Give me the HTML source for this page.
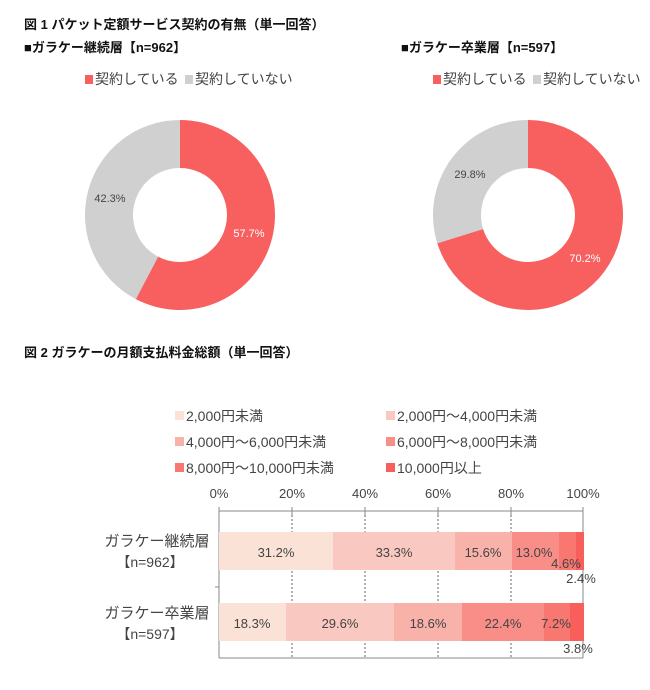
<!DOCTYPE html>
<html><head><meta charset="utf-8"><style>
body{margin:0;background:#fff;}
svg text{font-family:"Liberation Sans","Noto Sans CJK JP",sans-serif;}
</style></head><body>
<svg width="650" height="685" viewBox="0 0 650 685" xmlns="http://www.w3.org/2000/svg">
<text x="24" y="29" font-size="13" fill="#111" font-weight="bold">図 1  パケット定額サービス契約の有無（単一回答）</text>
<text x="24" y="52" font-size="13" fill="#111" font-weight="bold">■ガラケー継続層【n=962】</text>
<text x="401" y="52" font-size="13" fill="#111" font-weight="bold">■ガラケー卒業層【n=597】</text>
<rect x="85" y="75" width="8" height="9" fill="#f86060"/><text x="95" y="84" font-size="14" fill="#444">契約している</text>
<rect x="185" y="75" width="8" height="9" fill="#d0d0d0"/><text x="195" y="84" font-size="14" fill="#444">契約していない</text>
<rect x="433" y="75" width="8" height="9" fill="#f86060"/><text x="443" y="84" font-size="14" fill="#444">契約している</text>
<rect x="533" y="75" width="8" height="9" fill="#d0d0d0"/><text x="543" y="84" font-size="14" fill="#444">契約していない</text>
<path d="M180 120 A95 95 0 1 1 135.8 299.1 L158.1 256.6 A47 47 0 1 0 180 168 Z" fill="#f86060"/>
<path d="M135.8 299.1 A95 95 0 0 1 180 120 L180 168 A47 47 0 0 0 158.1 256.6 Z" fill="#d0d0d0"/>
<text x="249" y="237" font-size="11" fill="#fff" text-anchor="middle">57.7%</text>
<text x="110" y="202" font-size="11" fill="#444" text-anchor="middle">42.3%</text>
<path d="M528 120 A95 95 0 1 1 437.3 243.2 L483.1 229 A47 47 0 1 0 528 168 Z" fill="#f86060"/>
<path d="M437.3 243.2 A95 95 0 0 1 528 120 L528 168 A47 47 0 0 0 483.1 229 Z" fill="#d0d0d0"/>
<text x="585" y="262" font-size="11" fill="#fff" text-anchor="middle">70.2%</text>
<text x="470" y="178" font-size="11" fill="#444" text-anchor="middle">29.8%</text>
<text x="24" y="357" font-size="13" fill="#111" font-weight="bold">図 2  ガラケーの月額支払料金総額（単一回答）</text>
<g font-size="14" fill="#444">
<rect x="175" y="411" width="9" height="9" fill="#fae3d6"/><text x="186" y="421">2,000円未満</text>
<rect x="386" y="411" width="9" height="9" fill="#f9c9c1"/><text x="397" y="421">2,000円～4,000円未満</text>
<rect x="175" y="437" width="9" height="9" fill="#f8b2aa"/><text x="186" y="447">4,000円～6,000円未満</text>
<rect x="386" y="437" width="9" height="9" fill="#f98e88"/><text x="397" y="447">6,000円～8,000円未満</text>
<rect x="175" y="463" width="9" height="9" fill="#f87771"/><text x="186" y="473">8,000円～10,000円未満</text>
<rect x="386" y="463" width="9" height="9" fill="#f85e5a"/><text x="397" y="473">10,000円以上</text>
</g>
<g font-size="13" fill="#444" text-anchor="middle">
<text x="219" y="498">0%</text><text x="292" y="498">20%</text><text x="365" y="498">40%</text><text x="438" y="498">60%</text><text x="511" y="498">80%</text><text x="583" y="498">100%</text>
</g>
<g stroke="#888" stroke-width="1">
<line x1="219" y1="511" x2="583" y2="511"/>
<line x1="219" y1="507" x2="219" y2="515"/><line x1="292" y1="507" x2="292" y2="515"/><line x1="365" y1="507" x2="365" y2="515"/><line x1="438" y1="507" x2="438" y2="515"/><line x1="511" y1="507" x2="511" y2="515"/><line x1="583" y1="507" x2="583" y2="658"/>
<line x1="219" y1="511" x2="219" y2="658"/><line x1="219" y1="658" x2="583" y2="658"/>
<line x1="215" y1="587" x2="219" y2="587"/>
</g>
<g stroke="#666" stroke-width="1" stroke-dasharray="2,2">
<line x1="292" y1="515" x2="292" y2="658"/><line x1="365" y1="515" x2="365" y2="658"/><line x1="438" y1="515" x2="438" y2="658"/><line x1="511" y1="515" x2="511" y2="658"/>
</g>
<rect x="219" y="532" width="114" height="38" fill="#fae3d6"/>
<rect x="333" y="532" width="122" height="38" fill="#f9c9c1"/>
<rect x="455" y="532" width="57" height="38" fill="#f8b2aa"/>
<rect x="512" y="532" width="47" height="38" fill="#f98e88"/>
<rect x="559" y="532" width="17" height="38" fill="#f87771"/>
<rect x="576" y="532" width="8" height="38" fill="#f85e5a"/>
<rect x="219" y="603" width="67" height="38" fill="#fae3d6"/>
<rect x="286" y="603" width="108" height="38" fill="#f9c9c1"/>
<rect x="394" y="603" width="68" height="38" fill="#f8b2aa"/>
<rect x="462" y="603" width="82" height="38" fill="#f98e88"/>
<rect x="544" y="603" width="26" height="38" fill="#f87771"/>
<rect x="570" y="603" width="14" height="38" fill="#f85e5a"/>
<g font-size="13" fill="#444" text-anchor="middle">
<text x="276" y="557">31.2%</text><text x="394" y="557">33.3%</text><text x="483" y="557">15.6%</text><text x="534" y="557">13.0%</text><text x="566" y="568">4.6%</text><text x="581" y="583">2.4%</text>
<text x="252" y="628">18.3%</text><text x="340" y="628">29.6%</text><text x="428" y="628">18.6%</text><text x="503" y="628">22.4%</text><text x="556" y="628">7.2%</text><text x="578" y="653">3.8%</text>
</g>
<g font-size="15" fill="#444" text-anchor="middle">
<text x="157" y="546">ガラケー継続層</text><text x="150" y="567" font-size="14">【n=962】</text>
<text x="157" y="618">ガラケー卒業層</text><text x="150" y="639" font-size="14">【n=597】</text>
</g>
</svg>
</body></html>
